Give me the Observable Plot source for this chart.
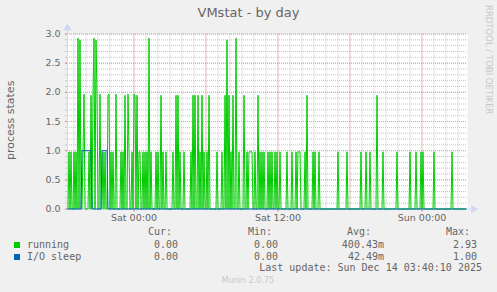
<!DOCTYPE html>
<html><head><meta charset="utf-8">
<script src="https://cdn.jsdelivr.net/npm/d3@7"></script>
<script src="https://cdn.jsdelivr.net/npm/@observablehq/plot@0.6"></script>
<style>
html,body{margin:0;padding:0;background:#f0f0f0;width:497px;height:292px;overflow:hidden;}
#wrap{position:relative;width:497px;height:292px;}
#wrap svg{position:absolute;left:0;top:0;}
.t{position:absolute;white-space:pre;color:#666;font-family:"DejaVu Sans",sans-serif;}
.mono{font-family:"DejaVu Sans Mono",monospace;font-size:10px;line-height:10px;}
.r{text-align:right;}
.sw{position:absolute;width:6px;height:6px;}
</style></head><body><div id="wrap"></div>
<script>
// ---- data ----
const friTimes = ["18:35","18:45","19:00","19:10","19:20","19:30","19:45","19:50","20:15","20:25","20:35","20:40","20:50","20:55","21:10","21:25","21:35","21:50","21:55","22:05","22:15","22:30","22:55","23:05","23:15","23:30","23:35","23:50"];
const friValues = [0.98,0.98,0.98,0.98,2.93,2.9,0.98,1.97,0.98,1.95,1.97,2.93,2.9,1.97,1.97,0.98,0.98,1.95,1.97,0.98,0.98,1.97,0.98,0.98,1.95,1.97,0.98,0.98];
const satTimes = ["00:00","00:05","00:15","00:25","00:30","00:45","00:55","01:05","01:15","01:25","01:50","02:00","02:15","02:25","02:40","03:15","03:30","03:40","03:50","04:10","04:45","04:55","05:05","05:20","05:30","05:40","05:50","06:05","06:15","06:55","07:20","07:35","07:45","07:55","08:05","08:15","08:30","08:45","09:10","09:25","09:35","09:40","09:45","09:50","10:05","10:20","10:30","10:40","10:50","11:10","11:20","11:30","11:45","11:55","12:10","12:45","13:10","13:30","13:40","13:45","13:50","14:15","14:25","14:55","15:05","15:25","17:00","17:45","18:55","19:20","19:40","20:15","20:45","21:55","23:00","23:30","23:55"];
const satValues = [1.97,1.95,1.95,0.98,0.98,0.98,0.98,0.98,2.93,0.98,0.98,0.98,1.95,0.98,0.98,0.98,1.95,1.95,0.98,0.98,0.98,1.95,1.95,1.95,0.98,1.95,0.98,0.98,1.95,0.98,0.98,1.95,2.9,1.95,0.98,1.95,2.93,0.98,1.95,0.98,0.98,0.98,0.98,0.98,0.98,1.95,0.98,0.98,0.98,0.98,0.98,0.98,0.98,0.98,0.98,0.98,0.98,0.98,0.98,0.98,0.98,0.98,1.95,0.98,0.98,0.98,0.98,0.98,0.98,0.98,0.98,1.95,0.98,0.98,0.98,0.98,0.98];
const sunTimes = ["00:05","01:00","02:30"];
const sunValues = [0.98,0.98,0.98];
const ioSleepStart = ["2025-12-12 19:40","2025-12-12 21:20"];
const ioSleepEnd   = ["2025-12-12 20:25","2025-12-12 21:45"];
const ioSleepLevel = [1.0, 1.0];
const seriesStart = "2025-12-12 18:30";
const lastUpdate = "2025-12-14 03:40";
const xTickLabels = ["2025-12-13 00:00","2025-12-13 12:00","2025-12-14 00:00"];
const yTicks = [0,0.5,1,1.5,2,2.5,3];
const legendNames = ["running","I/O sleep"];
const legendColors = ["#00cc00","#0066b3"];
const statHeaders = ["Cur:","Min:","Avg:","Max:"];
const statRunning = ["0.00","0.00","400.43m","2.93"];
const statIoSleep = ["0.00","0.00","42.49m","1.00"];
const lastUpdateText = "Last update: Sun Dec 14 03:40:10 2025";

// ---- build ----
const parse = s => new Date(s.replace(" ", "T") + ":00Z");
const spikes = new Map();
friTimes.forEach((t,i)=>spikes.set(+parse("2025-12-12 "+t), friValues[i]));
satTimes.forEach((t,i)=>spikes.set(+parse("2025-12-13 "+t), satValues[i]));
sunTimes.forEach((t,i)=>spikes.set(+parse("2025-12-14 "+t), sunValues[i]));
const step = 5*60e3;
const times = d3.range(+parse(seriesStart), +parse(lastUpdate) + 1, step);
const running = times.map(t => ({t: new Date(t), v: spikes.get(t) ?? 0}));
const io = times.map(t => {
  let v = 0;
  ioSleepStart.forEach((s,i)=>{ if (t >= +parse(s) && t <= +parse(ioSleepEnd[i])) v = ioSleepLevel[i]; });
  return {t: new Date(t), v};
});

const sat0 = +parse("2025-12-13 00:00");
const xStart = new Date(sat0 - 332.5*60e3);
const xEnd = new Date(+xStart + 2000*60e3);
const hours = d3.utcHour.range(xStart, xEnd);
const sixes = d3.utcHour.every(6).range(xStart, xEnd);
const tenths = d3.range(0, 31).map(i => i/10);
const majorX = xTickLabels.map(parse);

const grid = "#c4c4c4", mgrid = "#e69a9a", axisC = "#cfd6f8";
const chart = Plot.plot({
  width: 497, height: 292,
  marginLeft: 67, marginRight: 30, marginTop: 33.5, marginBottom: 83.5,
  style: {background: "transparent", fontFamily: "DejaVu Sans", fontSize: "9.5px", color: "#666", overflow: "visible"},
  x: {type: "utc", domain: [xStart, xEnd]},
  y: {domain: [0, 3]},
  marks: [
    Plot.frame({fill: "#ffffff", stroke: null}),
    Plot.ruleX(hours, {stroke: grid, strokeDasharray: "1,1"}),
    Plot.ruleY(tenths, {stroke: grid, strokeDasharray: "1,1"}),
    Plot.ruleX(sixes, {stroke: mgrid, strokeDasharray: "1,1"}),
    Plot.ruleY(yTicks, {stroke: mgrid, strokeDasharray: "1,1"}),
    Plot.axisY({ticks: tenths, tickSize: 2, tickFormat: () => "", stroke: "#c8c8c8", label: null}),
    Plot.axisY({ticks: yTicks, tickSize: 2, tickPadding: 5, stroke: "#e08080", fill: "#666", tickFormat: d => d.toFixed(1), label: null}),
    Plot.axisX({ticks: hours, tickSize: 2, tickFormat: () => "", stroke: "#c8c8c8", label: null}),
    Plot.axisX({ticks: majorX, tickSize: 3, tickPadding: 2, stroke: "#e08080", fill: "#666", tickFormat: d3.utcFormat("%a %H:%M"), label: null}),
    Plot.ruleX([xStart], {y1: 0, y2: 3.08, stroke: axisC}),
    Plot.ruleY([0], {x1: xStart, x2: new Date(+xEnd + 20*60e3), stroke: axisC}),
    Plot.dot([0], {frameAnchor: "top-left", symbol: "triangle", r: 3, dy: -6, fill: axisC, stroke: null}),
    Plot.dot([0], {frameAnchor: "bottom-right", symbol: "triangle", r: 3, dx: 6, rotate: 90, fill: axisC, stroke: null}),
    Plot.line(running, {x: "t", y: "v", stroke: legendColors[0], strokeWidth: 1}),
    Plot.line(io, {x: "t", y: "v", stroke: legendColors[1], strokeWidth: 1})
  ]
});
const wrap = document.getElementById("wrap");
wrap.appendChild(chart);

function add(text, cls, css) {
  const d = document.createElement("div");
  d.className = "t " + cls;
  d.textContent = text;
  Object.assign(d.style, css);
  wrap.appendChild(d);
  return d;
}
add("VMstat - by day", "", {left: "0px", width: "497px", textAlign: "center", top: "6px", fontSize: "13px", lineHeight: "13px"});
add("RRDTOOL / TOBI OETIKER", "", {left: "484px", top: "5px", fontSize: "8.5px", lineHeight: "9px", writingMode: "vertical-rl", color: "#c8c8c8"});
add("process states", "", {left: "5px", top: "80px", height: "80px", fontSize: "11px", lineHeight: "12px", writingMode: "vertical-rl", transform: "rotate(180deg)", textAlign: "center"});

const colRight = [172, 272, 371, 470];
const valRight = [178, 278, 384, 477];
statHeaders.forEach((h,i) => add(h, "mono r", {left: (colRight[i]-60)+"px", width: "60px", top: "227px"}));
[statRunning, statIoSleep].forEach((row, r) => {
  const top = 240 + r*12;
  const sw = document.createElement("div");
  sw.className = "sw";
  Object.assign(sw.style, {left: "14px", top: (top+2)+"px", background: legendColors[r]});
  wrap.appendChild(sw);
  add(legendNames[r], "mono", {left: "27px", top: top+"px"});
  row.forEach((v,i) => add(v, "mono r", {left: (valRight[i]-80)+"px", width: "80px", top: top+"px"}));
});
add(lastUpdateText, "mono r", {left: "182px", width: "300px", top: "263px"});
add("Munin 2.0.75", "", {left: "148px", width: "200px", textAlign: "center", top: "277px", fontSize: "8px", lineHeight: "8px", color: "#c8c8c8"});
</script></body></html>
